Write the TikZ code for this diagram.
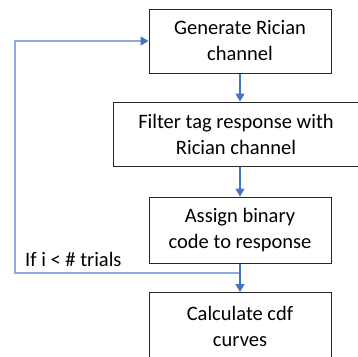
\documentclass[tikz,border=0pt]{standalone}
\usepackage{fontspec}
\setmainfont{Carlito}
\usetikzlibrary{arrows.meta}
\definecolor{boxline}{HTML}{262626}
\definecolor{arrowblue}{HTML}{4472C4}
\definecolor{loopblue}{HTML}{8FAADC}
\begin{document}
\begin{tikzpicture}[x=1pt,y=1pt,
  box/.style={draw=boxline,line width=1pt,align=center,inner sep=0pt,
    font=\fontsize{20.5}{26}\selectfont},
  conn/.style={draw=arrowblue,line width=1.3pt,-{Triangle[length=8pt,width=9pt]}},
  loopline/.style={draw=loopblue,line width=1.5pt,-{Triangle[color=arrowblue,length=8pt,width=9pt]}}]
\useasboundingbox (0,0) rectangle (358,-356);
\clip (0,0) rectangle (358,-356);
\node[box,minimum width=182pt,minimum height=64pt] (b1) at (240,-41) {Generate Rician\\channel};
\node[box,minimum width=246pt,minimum height=64pt] (b2) at (236,-134) {Filter tag response with\\Rician channel};
\node[box,minimum width=182pt,minimum height=66pt] (b3) at (240,-230) {Assign binary\\code to response};
\node[box,minimum width=182pt,minimum height=68pt,anchor=north] (b4) at (240,-292) {Calculate cdf\\curves};
\coordinate (j) at (240,-273);
\coordinate (lb) at (15,-273);
\coordinate (lt) at (15,-41);
\draw[loopline] (j) -- (lb) -- (lt) -- (b1.west);
\draw[conn] (b1.south) -- (b2.north -| b1.south);
\draw[conn] (b2.south -| b1.south) -- (b3.north);
\draw[conn] (b3.south) -- (b4.north);
\node[font=\fontsize{20.5}{24}\selectfont,anchor=base west,inner sep=0pt] (lbl) at (25,-266) {If i < \# trials};
\end{tikzpicture}
\end{document}
